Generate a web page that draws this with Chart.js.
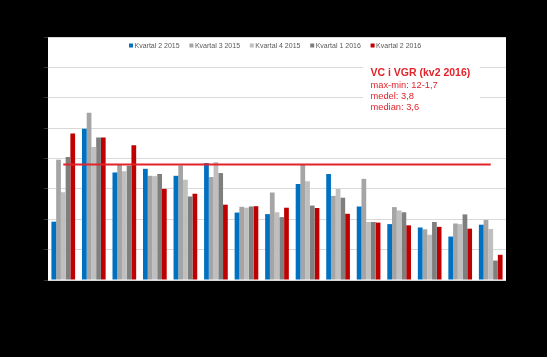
<!DOCTYPE html>
<html><head><meta charset="utf-8">
<script src="https://cdn.jsdelivr.net/npm/chart.js@4/dist/chart.umd.min.js"></script>
<style>html,body{margin:0;padding:0;background:#000;}canvas{display:block;}</style>
</head><body>
<canvas id="c" width="547" height="357"></canvas>
<script>
const categories = ['1','2','3','4','5','6','7','8','9','10','11','12','13','14','15'];
const seriesNames = ['Kvartal 2 2015','Kvartal 3 2015','Kvartal 4 2015','Kvartal 1 2016','Kvartal 2 2016'];
const seriesColors = ['#0070C0','#A5A5A5','#BFBFBF','#7F7F7F','#C00000'];
const kv2_2015 = [1.92, 4.98, 3.54, 3.66, 3.43, 3.85, 2.22, 2.17, 3.16, 3.49, 2.42, 1.84, 1.73, 1.43, 1.82];
const kv3_2015 = [3.96, 5.51, 3.82, 3.43, 3.77, 3.39, 2.41, 2.88, 3.82, 2.77, 3.33, 2.40, 1.67, 1.86, 1.98];
const kv4_2015 = [2.89, 4.38, 3.58, 3.42, 3.30, 3.88, 2.38, 2.23, 3.25, 3.00, 1.91, 2.29, 1.49, 1.84, 1.68];
const kv1_2016 = [4.05, 4.69, 3.76, 3.49, 2.75, 3.52, 2.42, 2.07, 2.45, 2.71, 1.91, 2.23, 1.91, 2.16, 0.64];
const kv2_2016 = [4.82, 4.69, 4.44, 3.00, 2.84, 2.48, 2.43, 2.38, 2.37, 2.18, 1.89, 1.80, 1.75, 1.69, 0.83];
const meanLine = [3.8, 3.8, 3.8, 3.8, 3.8, 3.8, 3.8, 3.8, 3.8, 3.8, 3.8, 3.8, 3.8, 3.8, 3.8];
const yMin = 0, yMax = 8, yStep = 1;
const annotationTitle = 'VC i VGR (kv2 2016)';
const annotationLines = ['max-min: 12-1,7', 'medel: 3,8', 'median: 3,6'];

const seriesData = [kv2_2015, kv3_2015, kv4_2015, kv1_2016, kv2_2016];

const bgPlugin = {
  id: 'bg',
  beforeDraw(chart) {
    const {ctx, chartArea: a} = chart;
    ctx.save();
    ctx.fillStyle = '#000';
    ctx.fillRect(0, 0, chart.width, chart.height);
    ctx.fillStyle = '#fff';
    ctx.fillRect(a.left, a.top, a.right - a.left, a.bottom - a.top);
    ctx.restore();
  }
};

const legendPlugin = {
  id: 'customLegend',
  afterDraw(chart) {
    const ctx = chart.ctx;
    ctx.save();
    ctx.font = '7px "Liberation Sans", Arial, sans-serif';
    ctx.textBaseline = 'middle';
    const box = 4, gap = 1.5, pitch = 60.4;
    const y = 45.5;
    seriesNames.forEach((n, i) => {
      const x = 129 + i * pitch;
      ctx.fillStyle = seriesColors[i];
      ctx.fillRect(x, y - box / 2, box, box);
      ctx.fillStyle = '#595959';
      ctx.fillText(n, x + box + gap, y + 0.5);
    });
    ctx.restore();
  }
};

const notePlugin = {
  id: 'note',
  afterDraw(chart) {
    const ctx = chart.ctx;
    ctx.save();
    ctx.fillStyle = '#fff';
    ctx.fillRect(363, 62, 117, 52);
    ctx.fillStyle = '#E3222A';
    ctx.textBaseline = 'alphabetic';
    ctx.font = 'bold 10.5px "Liberation Sans", Arial, sans-serif';
    ctx.fillText(annotationTitle, 370.5, 75.5);
    ctx.font = '9.3px "Liberation Sans", Arial, sans-serif';
    annotationLines.forEach((t, i) => ctx.fillText(t, 370.5, 87.5 + i * 11.3));
    ctx.restore();
  }
};

const datasets = seriesNames.map((name, i) => ({
  type: 'bar',
  label: name,
  data: seriesData[i],
  backgroundColor: seriesColors[i],
  borderWidth: 0,
  categoryPercentage: 0.776,
  barPercentage: 1.0,
  order: 2
}));
datasets.push({
  type: 'line',
  label: 'Medel VGR',
  data: meanLine,
  borderColor: '#E3222A',
  borderWidth: 2,
  pointRadius: 0,
  fill: false,
  order: 0
});

new Chart(document.getElementById('c'), {
  type: 'bar',
  data: { labels: categories, datasets },
  options: {
    responsive: false,
    animation: false,
    devicePixelRatio: 1,
    layout: { padding: { left: 0, right: 41, top: 37, bottom: 0 } },
    plugins: { legend: { display: false }, tooltip: { enabled: false } },
    scales: {
      x: {
        ticks: { display: false },
        grid: { display: false },
        border: { display: false },
        afterFit(scale) { scale.height = 77; }
      },
      y: {
        min: yMin, max: yMax,
        ticks: { display: false, stepSize: yStep },
        grid: { color: '#D9D9D9', lineWidth: 1, drawTicks: true, tickLength: 4, tickColor: '#333333' },
        border: { display: false },
        afterFit(scale) { scale.width = 48; }
      }
    }
  },
  plugins: [bgPlugin, legendPlugin, notePlugin]
});
</script>
</body></html>
